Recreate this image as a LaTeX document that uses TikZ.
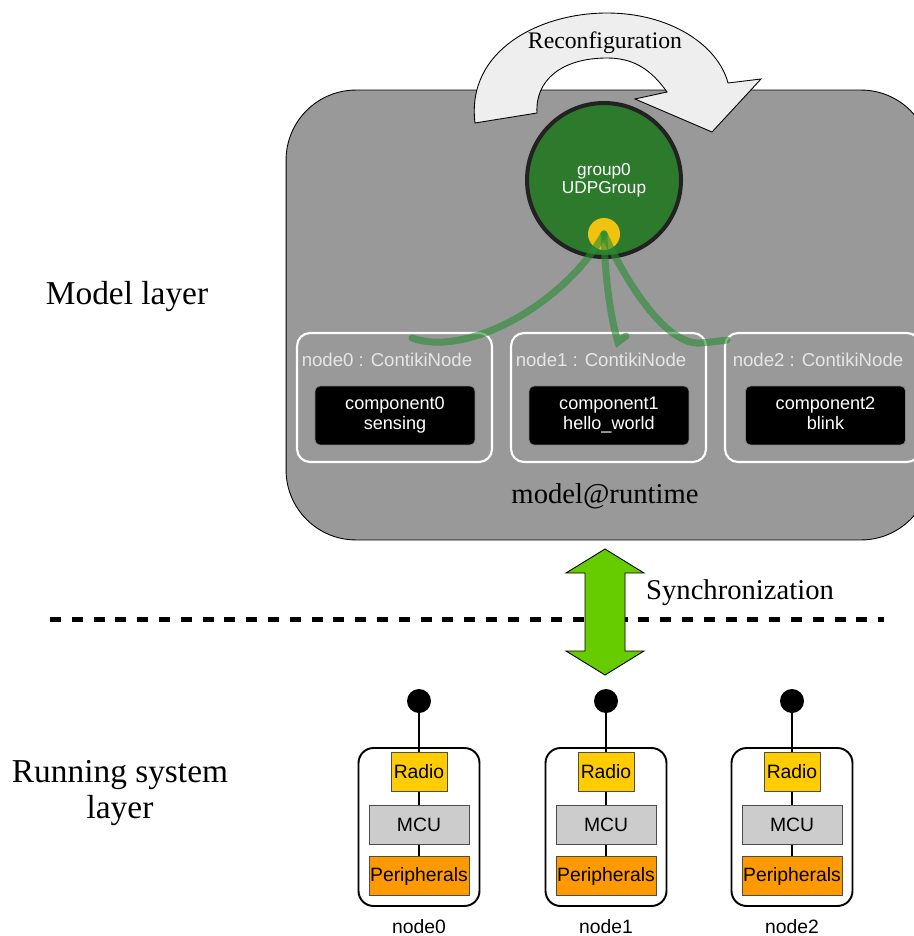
\documentclass[tikz,border=0pt]{standalone}
\usepackage{fontspec}
\setmainfont{Liberation Serif}
\setsansfont{Liberation Sans}
\usepackage{xcolor}
\usepackage{tikz}
\usetikzlibrary{positioning}
\usetikzlibrary{calc}
\usetikzlibrary{math}

\definecolor{modelgray}{RGB}{153,153,153}
\definecolor{groupgreen}{RGB}{45,122,45}
\definecolor{groupedge}{RGB}{34,34,34}
\definecolor{portyellow}{RGB}{240,195,16}
\definecolor{linkgreen}{RGB}{40,140,50}
\definecolor{syncgreen}{RGB}{102,204,0}
\definecolor{radioyellow}{RGB}{255,204,0}
\definecolor{mcugray}{RGB}{204,204,204}
\definecolor{periorange}{RGB}{255,153,0}
\definecolor{reconfgray}{RGB}{238,238,238}
\definecolor{headgray}{RGB}{230,230,230}

\begin{document}
\begin{tikzpicture}[x=0.02cm,y=-0.02cm,
    modelbox/.style={draw=black, line width=0.5pt, fill=modelgray, rounded corners=1.4cm,
      minimum width=12.9cm, minimum height=9cm},
    nodebox/.style={draw=white, line width=1.2pt, rounded corners=0.26cm,
      minimum width=3.9cm, minimum height=2.58cm},
    compbox/.style={draw=gray, line width=0.4pt, fill=black, rounded corners=0.1cm,
      minimum width=3.2cm, minimum height=1.18cm, text=white, align=center,
      text depth=2.5pt, font=\sffamily\fontsize{10.3}{11}\selectfont},
    headtext/.style={text=headgray, font=\sffamily\fontsize{10.6}{12}\selectfont},
    serifbig/.style={font=\fontsize{19}{20}\selectfont, align=center},
    serifmid/.style={font=\fontsize{16.3}{18}\selectfont},
    linkline/.style={draw=linkgreen, opacity=0.6, line width=4pt, line cap=round},
    hwnode/.style={draw=black, line width=1.1pt, rounded corners=0.3cm,
      minimum width=2.42cm, minimum height=3.16cm},
    hwbox/.style={draw=black!70, line width=0.5pt, minimum height=0.78cm,
      inner sep=0pt, font=\sffamily\fontsize{11}{12}\selectfont},
    antenna/.style={circle, fill=black, minimum size=0.48cm, inner sep=0pt},
    wire/.style={line width=0.9pt}
  ]

  \tikzmath{
    \ytop  = 701; % y of antenna dots
    \ylab  = 927; % y of node labels
  }

  \useasboundingbox (0,0) rectangle (913,936);

  % layer labels
  \node (modellayer) [serifbig] at (127,297) {Model layer};
  \node (runlayer) [serifbig] at (120,793) {Running system\\layer};

  % model@runtime
  \node (model) [modelbox] at (608.5,315) {};
  \node (runtime) [serifmid] at (605,496) {model@runtime};

  % ContikiNode boxes with their components
  \node (box0) [nodebox] at (394.5,397.5) {};
  \node (box1) [nodebox] at (608.5,397.5) {};
  \node (box2) [nodebox] at (822.5,397.5) {};
  \node (head0) [headtext] at (387,360) {node0 : ContikiNode};
  \node (head1) [headtext] at (601,360) {node1 : ContikiNode};
  \node (head2) [headtext] at (818,360) {node2 : ContikiNode};
  \node (comp0) [compbox] at (395,415.5) {component0\\sensing};
  \node (comp1) [compbox] at (609,415.5) {component1\\hello\_world};
  \node (comp2) [compbox] at (825.5,415.5) {component2\\blink};

  % group and its port
  \node (group) [circle, draw=groupedge, line width=2.3pt, fill=groupgreen,
    minimum size=3.08cm, text=white, align=center,
    font=\sffamily\fontsize{9.8}{10.5}\selectfont] at (604,180) {group0\\UDPGroup};
  \node (port) [circle, fill=portyellow, minimum size=0.64cm, inner sep=0pt] at (604,234) {};

  % bindings
  \coordinate (l0) at (412,338);
  \coordinate (l1) at (626,336);
  \coordinate (l2) at (727,340);
  \draw[linkline] (port.center) .. controls (565,303) and (468,358) .. (l0);
  \draw[linkline] (port.center) .. controls (605,290) and (614,330) .. (618,342) -- (l1);
  \draw[linkline] (port.center) .. controls (630,290) and (668,345) .. (700,343)
    .. controls (712,342) and (720,341) .. (l2);

  % Reconfiguration arrow
  \draw[fill=reconfgray, line width=0.5pt, line join=miter]
    (475,123) .. controls (466,50) and (540,13) .. (607,13)
    .. controls (670,13) and (718,45) .. (728,83)
    -- (761,79) -- (712,132) -- (635,99) -- (667,92)
    .. controls (650,68) and (632,58) .. (607,58)
    .. controls (562,58) and (535,80) .. (537,113) -- cycle;
  \node (reconf) [font=\fontsize{13.5}{15}\selectfont] at (605,43) {Reconfiguration};

  % layer separation
  \coordinate (sepl) at (50,619);
  \coordinate (sepr) at (884,619);
  \draw[line width=2.85pt, dash pattern=on 0.22cm off 0.216cm] (sepl) -- (sepr);

  % Synchronization arrow
  \coordinate (sync) at (605,612);
  \draw[fill=syncgreen, line width=0.5pt]
    ($(sync)+(0,-63)$) -- ++(39,24) -- ++(-19,0) -- ++(0,78) -- ++(19,0)
    -- ++(-39,24) -- ++(-39,-24) -- ++(19,0) -- ++(0,-78) -- ++(-19,0) -- cycle;
  \node (synctext) [serifmid, anchor=west] at (640,593) {Synchronization};

  % running system nodes
  \foreach \i/\x in {0/419, 1/606, 2/792}{
    \node (hw\i) [hwnode] at (\x,827) {};
    \node (ant\i) [antenna] at (\x,\ytop) {};
    \node (radio\i) [hwbox, fill=radioyellow, minimum width=1.12cm] at (\x,772) {Radio};
    \node (mcu\i) [hwbox, fill=mcugray, minimum width=2cm] at (\x,825) {MCU};
    \node (peri\i) [hwbox, fill=periorange, minimum width=2cm] at (\x,876) {Peripherals};
    \draw[wire] (ant\i) -- (radio\i);
    \draw[wire] (radio\i) -- (mcu\i);
    \draw[wire] (mcu\i) -- (peri\i);
    \node (name\i) [font=\sffamily\fontsize{11}{12}\selectfont] at (\x,\ylab) {node\i};
  }

\end{tikzpicture}
\end{document}
